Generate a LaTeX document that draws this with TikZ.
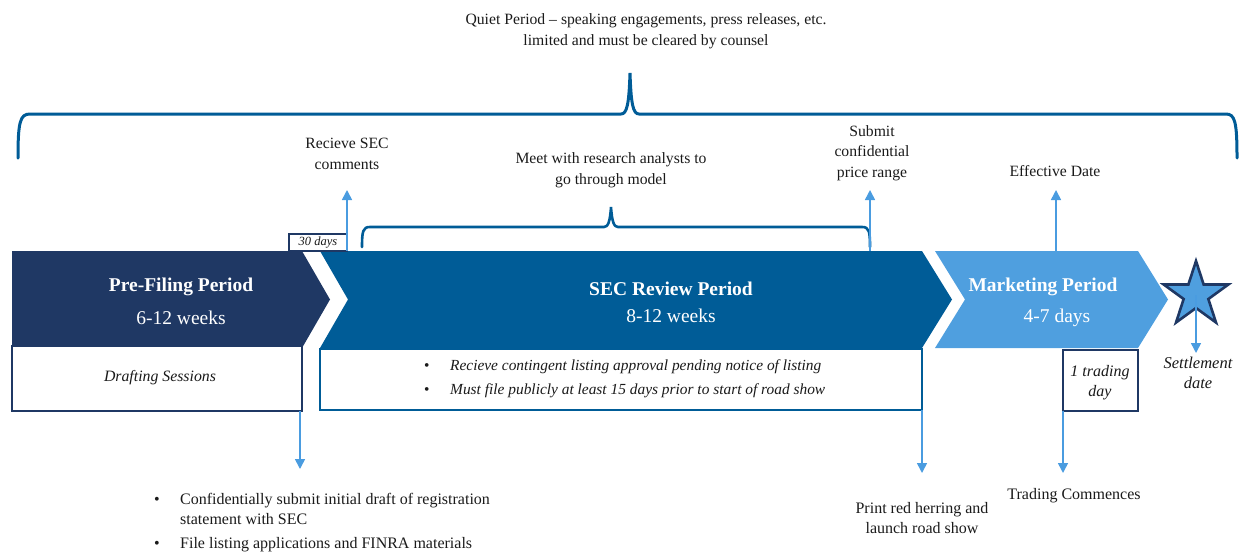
\documentclass[tikz,border=0pt]{standalone}
\usepackage{fontspec}
\setmainfont{Liberation Serif}
\usetikzlibrary{arrows.meta,shapes.geometric}
\definecolor{cNavy}{HTML}{1F3864}
\definecolor{cSec}{HTML}{005C97}
\definecolor{cMkt}{HTML}{4F9FDF}
\definecolor{cArrow}{HTML}{4A9CE0}
\definecolor{cBrace}{HTML}{005C97}
\definecolor{cTxt}{HTML}{1A1A1A}
\begin{document}
\begin{tikzpicture}[x=1pt,y=-1pt,
  lbl/.style={text=cTxt,font=\fontsize{15.7}{20.5}\selectfont,align=center,inner sep=0pt},
  ital/.style={text=cTxt,font=\fontsize{15.8}{20}\selectfont\itshape,align=center,inner sep=0pt},
  ptitle/.style={text=white,font=\fontsize{19.5}{24}\selectfont\bfseries,inner sep=0pt},
  psub/.style={text=white,font=\fontsize{19.5}{24}\selectfont,inner sep=0pt},
  conn/.style={draw=cArrow,line width=1.6pt,-{Triangle[width=10pt,length=10pt]}},
  bigbrace/.style={draw=cBrace,line width=3pt,line cap=round},
  smallbrace/.style={draw=cBrace,line width=2.6pt,line cap=round},
  whitebox/.style={fill=white,line width=2.8pt}
]
\useasboundingbox (0,0) rectangle (1241,552);

% ---------- period arrows ----------
\fill[cNavy] (12,251) -- (302,251) -- (330,299.5) -- (302,348) -- (12,348) -- cycle;
\fill[cSec] (320,251) -- (922,251) -- (952,299.5) -- (922,348) -- (320,348) -- (348,299.5) -- cycle;
\fill[cMkt] (935,251) -- (1138,251) -- (1168,299.5) -- (1138,348) -- (935,348) -- (965,299.5) -- cycle;

\node[ptitle] (pretitle) at (181,287) {Pre-Filing Period};
\node[psub] (presub) at (181,318) {6-12 weeks};
\node[ptitle] (sectitle) at (671,289) {SEC Review Period};
\node[psub] (secsub) at (671,316) {8-12 weeks};
\node[ptitle] (mkttitle) at (1043,287) {Marketing Period};
\node[psub] (mktsub) at (1057,318) {4-7 days};

% ---------- boxes below ----------
\draw[whitebox,draw=cNavy] (12,346) rectangle (302,411);
\node[ital] (draft) at (160,378) {Drafting Sessions};

\draw[whitebox,draw=cSec,line width=2.5pt] (320,349) rectangle (922,410);
\node[text=cTxt,font=\fontsize{15.4}{23}\selectfont\itshape,inner sep=0pt,anchor=west] (secitems) at (424,378)
  {\begin{tabular}{@{}p{26pt}@{}l@{}}\upshape\textbullet & Recieve contingent listing approval pending notice of listing\\[1pt]
   \upshape\textbullet & Must file publicly at least 15 days prior to start of road show\end{tabular}};

\draw[whitebox,draw=cNavy] (1063,350) rectangle (1138,411);
\node[ital,font=\fontsize{16}{20}\selectfont\itshape] (trday) at (1100,383) {1 trading\\day};

\draw[fill=white,draw=cNavy,line width=2pt] (289,234) rectangle (347,251);
\node[text=cTxt,font=\fontsize{12.5}{14}\selectfont\itshape,inner sep=0pt] (thirty) at (318,242.5) {30 days};

% ---------- star ----------
\node[star,star points=5,star point ratio=2.618,minimum size=68pt,inner sep=0pt,
      draw=cNavy,fill=cMkt,line width=2.6pt] (star) at (1196,295) {};

% ---------- braces ----------
\draw[bigbrace] (18,158) .. controls (18,122) and (20,114) .. (30,114) -- (621,114)
  .. controls (627,114) and (629,104) .. (630,73)
  .. controls (631,104) and (633,114) .. (639,114) -- (1226,114)
  .. controls (1235,114) and (1237,122) .. (1237,158);
\draw[smallbrace] (362,247) .. controls (362,231) and (363,227) .. (370,227) -- (604,227)
  .. controls (608,227) and (610,222) .. (611,207)
  .. controls (612,222) and (614,227) .. (618,227) -- (862,227)
  .. controls (869,227) and (870,231) .. (870,247);

% ---------- labels ----------
\node[lbl] (quiet) at (646,31) {Quiet Period -- speaking engagements, press releases, etc.\\limited and must be cleared by counsel};
\node[lbl] (recv) at (347,154) {Recieve SEC\\comments};
\node[lbl] (meet) at (611,170) {Meet with research analysts to\\go through model};
\node[lbl] (submit) at (872,153) {Submit\\confidential\\price range};
\node[lbl] (eff) at (1055,171) {Effective Date};
\node[ital,font=\fontsize{16.5}{20}\selectfont\itshape] (settle) at (1198,373) {Settlement\\date};
\node[lbl,font=\fontsize{16}{20.5}\selectfont] (trading) at (1074,496) {Trading Commences};
\node[lbl,font=\fontsize{16}{20.5}\selectfont] (print) at (922,518) {Print red herring and\\launch road show};
\node[text=cTxt,font=\fontsize{16}{20}\selectfont,inner sep=0pt,anchor=north west] (prelist) at (154,490)
  {\begin{tabular}{@{}p{26pt}@{}l@{}}\textbullet & Confidentially submit initial draft of registration\\
   & statement with SEC\\[4pt]
   \textbullet & File listing applications and FINRA materials\end{tabular}};

% ---------- connectors ----------
\coordinate (recvA) at (347,251);
\coordinate (recvB) at (347,190);
\coordinate (submitA) at (870,251);
\coordinate (submitB) at (870,190);
\coordinate (effA) at (1056,251);
\coordinate (effB) at (1056,190);
\coordinate (preA) at (300,411);
\coordinate (preB) at (300,469);
\coordinate (printA) at (922,410);
\coordinate (printB) at (922,473);
\coordinate (trA) at (1063,411);
\coordinate (trB) at (1063,473);
\coordinate (settleB) at (1196,353);

\draw[conn] (recvA) -- (recvB);
\draw[conn] (submitA) -- (submitB);
\draw[conn] (effA) -- (effB);
\draw[conn] (preA) -- (preB);
\draw[conn] (printA) -- (printB);
\draw[conn] (trA) -- (trB);
\draw[conn] (star.center) -- (settleB);
\end{tikzpicture}
\end{document}
